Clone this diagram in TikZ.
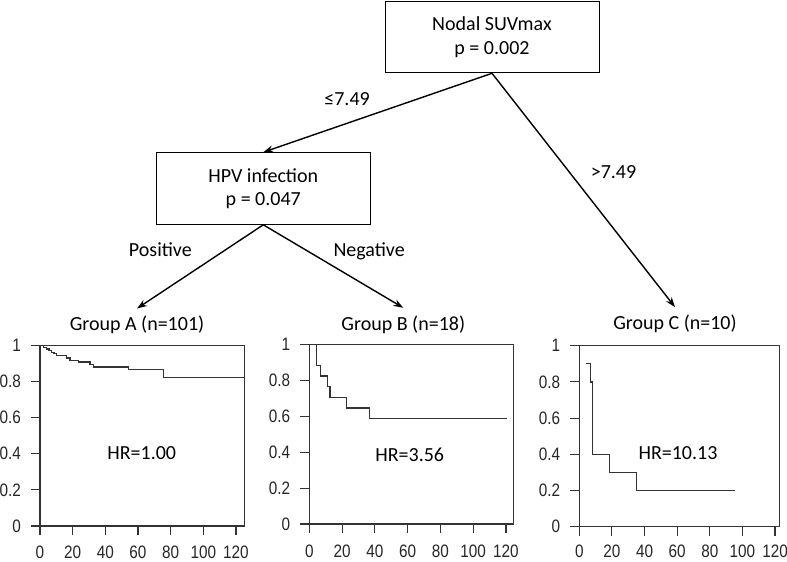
\documentclass[tikz,border=0pt]{standalone}
\usepackage{fontspec}
\setmainfont{Carlito}
\newfontfamily\axfont[FakeStretch=0.85]{Liberation Sans}
\usetikzlibrary{arrows.meta}
\definecolor{plotgray}{HTML}{333333}
\definecolor{txtgray}{HTML}{262626}
\begin{document}
\begin{tikzpicture}[x=1pt,y=-1pt,
  treebox/.style={draw=black, line width=1pt, minimum width=214pt, minimum height=71.6pt,
    align=center, inner sep=0pt, font=\fontsize{20}{23.5}\selectfont},
  lbl/.style={font=\fontsize{20}{24}\selectfont, inner sep=0pt, text=black},
  grptitle/.style={font=\fontsize{20}{24}\selectfont, inner sep=0pt, anchor=base, text height=22pt},
  conn/.style={line width=1.4pt, -{Stealth[length=10pt,width=7pt]}},
  plotline/.style={draw=plotgray, line width=1.1pt},
  kmline/.style={draw=plotgray, line width=1.2pt},
  xlab/.style={font=\axfont\fontsize{18}{20}\selectfont, text=txtgray, inner sep=0pt, anchor=base},
  ylab/.style={font=\axfont\fontsize{18}{20}\selectfont, text=txtgray, inner sep=0pt, anchor=east},
  hrlab/.style={font=\fontsize{20}{24}\selectfont, inner sep=0pt, anchor=base}
]
\useasboundingbox (0,0) rectangle (787,562);

% tree boxes
\node[treebox] (nodal) at (492,37) {Nodal SUVmax\\p = 0.002};
\node[treebox] (hpv) at (263.3,188.5) {HPV infection\\p = 0.047};

% group titles
\node[grptitle] (gA) at (137,330.7) {Group A (n=101)};
\node[grptitle] (gB) at (403.3,330) {Group B (n=18)};
\node[grptitle] (gC) at (675,329.3) {Group C (n=10)};

% connectors
\draw[conn] (nodal.south) -- (hpv.north);
\draw[conn] (nodal.south) -- (gC.north);
\draw[conn] (hpv.south) -- (gA.north);
\draw[conn] (hpv.south) -- (gB.north);

% branch labels
\node[lbl, anchor=base east] (le) at (370,105) {≤7.49};
\node[lbl, anchor=base] (gt) at (613.5,178.3) {>7.49};
\node[lbl, anchor=base east] (pos) at (192,256.7) {Positive};
\node[lbl, anchor=base west] (neg) at (333.3,256.7) {Negative};

% Plot A
\begin{scope}[shift={(40,526)}, x=1.633pt, y=180.7pt]
  \draw[plotline] (0,0) rectangle (125.5,1);
  \foreach \t [count=\k] in {0,20,40,60,80,100,120} {
    \draw[plotline] (\t,0) -- ++(0,-9pt);
    \node[xlab] (aX\k) at ([yshift=-32pt]\t,0) {\t};
  }
  \foreach \v [count=\k] in {0,0.2,0.4,0.6,0.8,1} {
    \draw[plotline] (0,\v) -- ++(-9pt,0);
    \node[ylab] (aY\k) at ([xshift=-19pt]0,\v) {\v};
  }
  \draw[kmline] (0,1) -- (2,1) -- (2,.99) -- (4,.99) -- (4,.98) -- (5.5,.98) -- (5.5,.97)
    -- (7,.97) -- (7,.96) -- (8.6,.96) -- (8.6,.953) -- (10,.953) -- (10,.945) -- (16,.945)
    -- (16,.93) -- (18.4,.93) -- (18.4,.917) -- (23.5,.917) -- (23.5,.908) -- (30.6,.908)
    -- (30.6,.893) -- (32.7,.893) -- (32.7,.88) -- (54,.88) -- (54,.867) -- (75.5,.867)
    -- (75.5,.821) -- (125.5,.821);
\end{scope}
\node[hrlab] (hrA) at (141.7,459.3) {HR=1.00};

% Plot B
\begin{scope}[shift={(309.3,524)}, x=1.639pt, y=179.7pt]
  \draw[plotline] (0,0) rectangle (124.5,1);
  \foreach \t [count=\k] in {0,20,40,60,80,100,120} {
    \draw[plotline] (\t,0) -- ++(0,-9pt);
    \node[xlab] (bX\k) at ([yshift=-33pt]\t,0) {\t};
  }
  \foreach \v [count=\k] in {0,0.2,0.4,0.6,0.8,1} {
    \draw[plotline] (0,\v) -- ++(-9pt,0);
    \node[ylab] (bY\k) at ([xshift=-19pt]0,\v) {\v};
  }
  \draw[kmline] (0,1) -- (4.5,1) -- (4.5,.881) -- (6.9,.881) -- (6.9,.824) -- (11.2,.824)
    -- (11.2,.765) -- (12.6,.765) -- (12.6,.704) -- (22.8,.704) -- (22.8,.645)
    -- (36.6,.645) -- (36.6,.585) -- (120.4,.585);
\end{scope}
\node[hrlab] (hrB) at (409.7,461) {HR=3.56};

% Plot C
\begin{scope}[shift={(579.3,526.7)}, x=1.631pt, y=181pt]
  \draw[plotline] (0,0) rectangle (123,1);
  \foreach \t [count=\k] in {0,20,40,60,80,100,120} {
    \draw[plotline] (\t,0) -- ++(0,-9pt);
    \node[xlab] (cX\k) at ([yshift=-31pt]\t,0) {\t};
  }
  \foreach \v [count=\k] in {0,0.2,0.4,0.6,0.8,1} {
    \draw[plotline] (0,\v) -- ++(-9pt,0);
    \node[ylab] (cY\k) at ([xshift=-19pt]0,\v) {\v};
  }
  \draw[kmline] (4.1,.9) -- (6.9,.9) -- (6.9,.8) -- (8.2,.8) -- (8.2,.4) -- (18.6,.4)
    -- (18.6,.3) -- (35.1,.3) -- (35.1,.2) -- (95.5,.2);
\end{scope}
\node[hrlab] (hrC) at (678,459.3) {HR=10.13};
\end{tikzpicture}
\end{document}
